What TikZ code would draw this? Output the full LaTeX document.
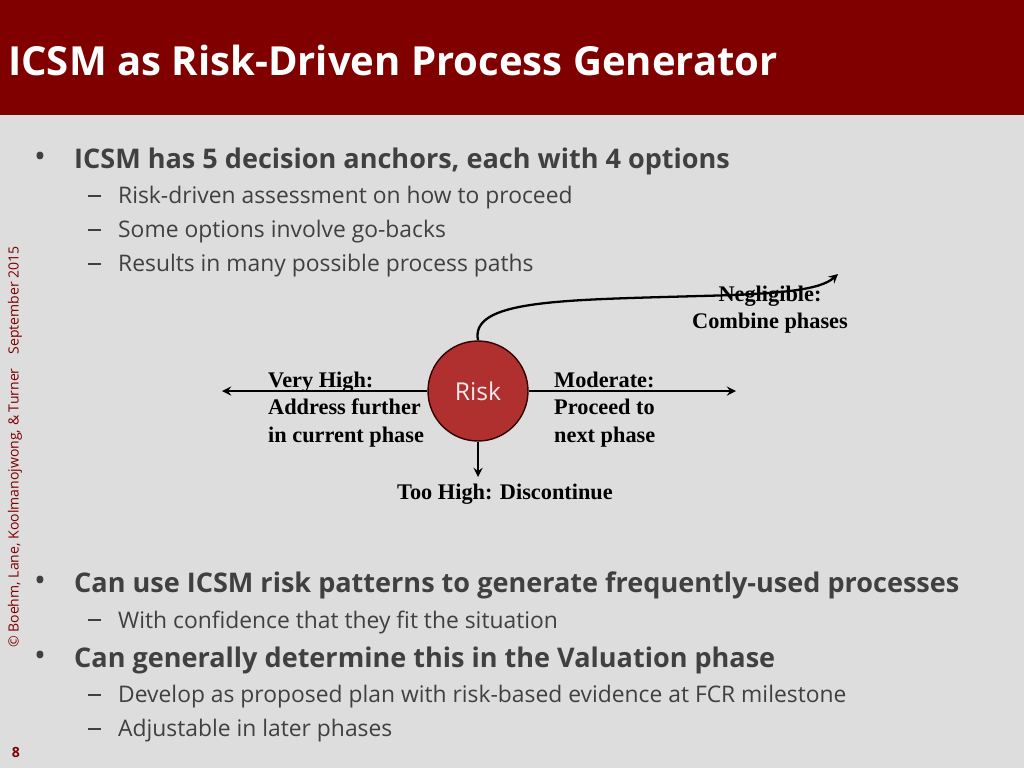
\documentclass[tikz,border=0pt]{standalone}
\usepackage{fontspec}
\setmainfont{Open Sans}
\newfontfamily\labelfont{Liberation Serif}
\usetikzlibrary{positioning}
\definecolor{titlered}{RGB}{128,0,0}
\definecolor{slidegray}{RGB}{221,221,221}
\definecolor{textgray}{RGB}{64,64,64}
\definecolor{riskred}{RGB}{176,48,48}
\tikzset{
  bullet/.style={anchor=west, text=textgray, font=\fontsize{15.4}{18}\selectfont\bfseries},
  sub/.style={anchor=west, text=textgray, font=\fontsize{13}{15}\selectfont},
  dot/.style={text=textgray, font=\fontsize{18}{20}\selectfont},
  subdash/.style={draw=textgray, line width=0.7pt},
  choice/.style={align=left, font=\labelfont\fontsize{12.7}{15.5}\selectfont\bfseries},
  path arrow/.style={->, >=stealth, line width=1.3pt}
}
\begin{document}
\begin{tikzpicture}[x=0.02cm, y=-0.02cm]
\useasboundingbox (0,0) rectangle (1024,768);
\fill[slidegray] (0,0) rectangle (1024,768);
\fill[titlered] (0,0) rectangle (1024,115);
\node[anchor=west, text=white, font=\fontsize{22.8}{26}\selectfont\bfseries] (title) at (2,60) {ICSM as Risk-Driven Process Generator};

% upper bullets
\node[dot] at (40,160) {•};
\node[bullet] (b1) at (68,161) {ICSM has 5 decision anchors, each with 4 options};
\foreach \y/\t in {196/Risk-driven assessment on how to proceed,
                   230/Some options involve go-backs,
                   264/Results in many possible process paths}
  {\draw[subdash] (88,\y) -- (101,\y);
   \node[sub] at (112,\y+2) {\t};}

% risk diagram
\node[circle, draw=black!80!red, thick, fill=riskred, minimum size=2cm, text=white!85!gray,
      font=\fontsize{14}{16}\selectfont] (risk) at (478,391) {Risk};
\coordinate (left) at (222,391);
\coordinate (right) at (736,391);
\coordinate (down) at (478,477);
\coordinate (up) at (838,274);
\draw[path arrow] (risk.west) -- (left);
\draw[path arrow] (risk.east) -- (right);
\draw[path arrow] (risk.south) -- (down);
\draw[path arrow] (risk.north) .. controls (470,300) and (560,300) .. (700,296)
  .. controls (780,294) and (820,290) .. (up);
\node[choice, anchor=north west] (high) at (262,366) {Very High:\\Address further\\in current phase};
\node[choice, anchor=north west] (moderate) at (548,366) {Moderate:\\Proceed to\\next phase};
\node[choice] (toohigh) at (505,494) {Too High: Discontinue};
\node[choice, align=center] (negligible) at (770,310) {Negligible:\\Combine phases};

% lower bullets
\node[dot] at (40,584) {•};
\node[bullet] (b2) at (68,585) {Can use ICSM risk patterns to generate frequently-used processes};
\draw[subdash] (88,620) -- (101,620);
\node[sub] at (112,622) {With confidence that they fit the situation};
\node[dot] at (40,659) {•};
\node[bullet] (b3) at (68,660) {Can generally determine this in the Valuation phase};
\foreach \y/\t in {695/Develop as proposed plan with risk-based evidence at FCR milestone,
                   729/Adjustable in later phases}
  {\draw[subdash] (88,\y) -- (101,\y);
   \node[sub] at (112,\y+2) {\t};}

% side notes
\node[rotate=90, text=titlered, font=\fontsize{8}{10}\selectfont] (credit) at (15,447)
  {© Boehm, Lane, Koolmanojwong, \& Turner\quad September 2015};
\node[text=titlered, font=\fontsize{8}{10}\selectfont\bfseries] (page) at (16,752) {8};
\end{tikzpicture}
\end{document}
